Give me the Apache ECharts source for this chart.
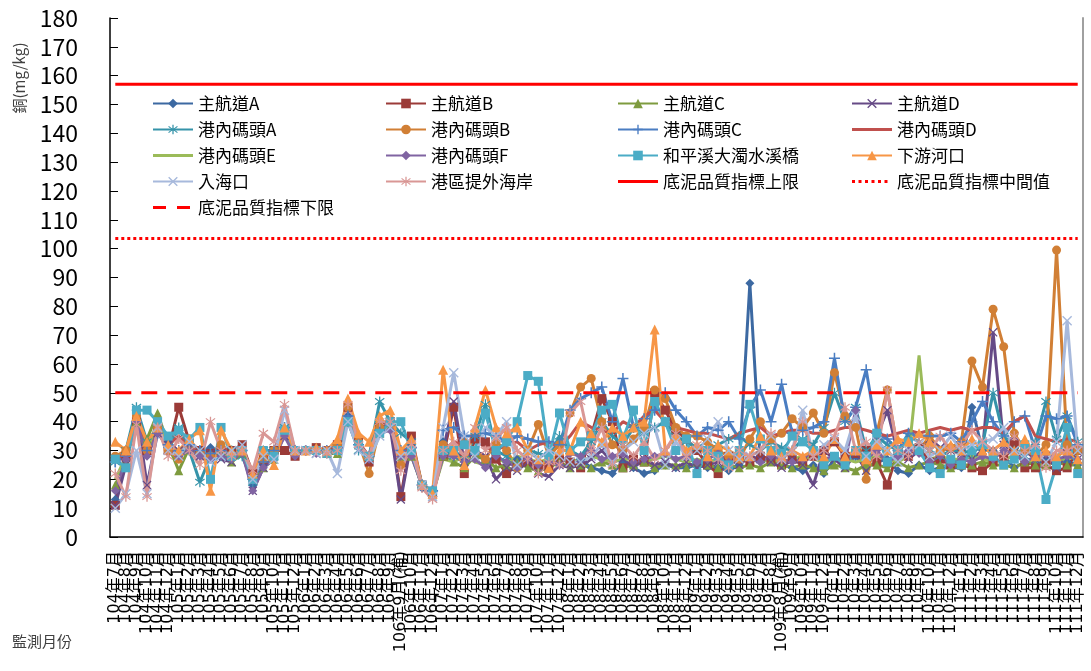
<!DOCTYPE html>
<html><head><meta charset="utf-8">
<script src="https://cdn.jsdelivr.net/npm/echarts@6/dist/echarts.min.js"></script>
<style>html,body{margin:0;padding:0;background:#fff}#c{width:1091px;height:671px}</style>
</head><body><div id="c"></div>
<script>
const categories = [
'104年7月','104年8月','104年9月','104年10月','104年11月','104年12月',
'105年1月','105年2月','105年3月','105年4月','105年5月','105年6月','105年7月','105年8月','105年9月','105年10月','105年11月','105年12月',
'106年1月','106年2月','106年3月','106年4月','106年5月','106年6月','106年7月','106年8月','106年9月','106年9月(補)','106年10月','106年11月','106年12月',
'107年1月','107年2月','107年3月','107年4月','107年5月','107年6月','107年7月','107年8月','107年9月','107年10月','107年11月','107年12月',
'108年1月','108年2月','108年3月','108年4月','108年5月','108年6月','108年7月','108年8月','108年9月','108年10月','108年11月','108年12月',
'109年1月','109年2月','109年3月','109年4月','109年5月','109年6月','109年7月','109年8月','109年8月(補)','109年9月','109年10月','109年11月','109年12月',
'110年1月','110年2月','110年3月','110年4月','110年5月','110年6月','110年7月','110年8月','110年9月','110年10月','110年11月','110年12月',
'111年1月','111年2月','111年3月','111年4月','111年5月','111年6月','111年7月','111年8月','111年9月','111年10月','111年11月','111年12月'
];
const yTicks = {min:0, max:180, interval:10};
const upperLimit = 157;
const middleValue = 103.5;
const lowerLimit = 50;

const mainA = [13,27,42,30,36,33,28,30,29,31, 28,29,30,18,25,28,36,29,30,30, 30,31,42,31,28,36,40,28,30,17, 15,33,30,27,30,26,28,26,27,25, 24,25,27,26,27,24,23,22,26,24, 22,23,25,24,24,25,24,24,23,25, 88,26,27,25,24,23,25,22,27,25, 28,24,26,27,23,22,25,23,24,24, 24,45,30,30,28,24,26,25,27,25, 26,25];
const mainB = [11,28,40,30,38,30,45,33,30,29, 30,30,32,22,27,30,30,28,30,31, 30,32,45,33,26,38,40,14,35,18, 15,28,45,22,34,33,27,22,25,26, 25,24,27,26,24,35,48,40,24,27, 26,50,44,37,34,30,25,22,28,27, 26,28,27,25,27,26,28,30,33,28, 29,30,26,18,30,28,31,26,27,25, 25,24,23,26,27,32,24,24,25,23, 24,30];
const mainC = [18,26,40,34,43,32,23,31,30,29, 30,26,29,20,24,27,38,30,30,30, 29,29,40,32,28,36,38,28,28,18, 15,28,26,24,28,27,24,25,26,24, 23,24,26,24,25,24,26,25,24,25, 26,24,25,25,24,26,25,24,25,24, 25,24,26,25,24,25,24,23,25,24, 23,25,25,24,26,24,25,26,25,24, 25,25,26,25,25,24,26,25,25,26, 25,25];
const mainD = [11,25,44,18,36,32,30,31,28,29, 27,26,30,16,24,28,35,30,30,29, 30,30,40,32,27,37,38,13,33,18, 14,30,47,26,30,28,20,24,23,26, 22,21,25,24,25,27,30,26,27,24, 27,25,26,24,26,24,25,26,27,25, 28,27,26,24,27,25,18,30,27,24, 29,23,35,44,29,27,30,34,31,30, 29,27,30,71,32,35,30,27,28,24, 29,27];
const harborA = [26,30,45,33,38,30,38,30,19,28, 28,30,28,19,30,30,38,30,30,30, 29,31,40,30,28,47,40,36,33,18, 15,30,28,27,35,46,30,28,25,30, 29,28,35,30,28,33,40,35,32,38, 36,38,40,35,33,31,30,32,34,35, 32,30,33,31,30,34,32,38,50,40, 45,30,35,32,30,35,33,30,28,30, 30,29,32,50,35,30,28,33,47,34, 42,33];
const harborB = [28,30,42,30,38,30,27,34,29,28, 32,28,30,20,27,30,37,30,30,30, 30,32,45,33,22,38,40,25,30,18, 16,32,30,33,30,27,33,30,24,30, 39,28,32,43,52,55,40,32,30,34, 38,51,48,38,35,35,33,30,28,27, 34,40,34,36,41,38,43,36,57,42, 38,20,36,51,30,33,30,35,30,31, 33,61,52,79,66,36,30,28,32,99.5, 32,30];
const harborC = [26,28,40,30,36,32,30,32,30,29, 30,29,30,20,26,30,38,30,30,30, 30,31,42,32,28,37,39,30,31,18, 16,37,38,35,35,36,35,33,35,34, 33,33,32,44,48,50,52,40,55,38, 41,44,50,44,40,35,38,37,40,34, 45,51,40,53,36,37,38,40,62,40, 45,58,36,34,30,36,35,35,35,36, 33,40,47,40,35,40,42,30,42,41, 42,32];
const harborD = [27,29,42,31,37,32,35,31,30,30, 31,30,31,20,28,30,38,30,30,30, 30,31,43,33,28,38,40,30,30,18, 16,30,33,32,34,31,30,32,33,30, 32,33,31,35,40,38,37,36,40,38, 42,44,40,38,37,36,36,35,34,36, 37,38,35,36,37,37,36,36,37,38, 38,37,36,35,36,37,36,37,38,37, 38,37,38,38,36,40,42,35,34,33, 34,33];
const harborE = [20,28,38,30,40,31,30,30,28,29, 29,28,30,22,26,28,36,29,30,30, 29,30,40,31,26,36,38,28,29,18, 15,27,26,28,26,25,27,26,28,27, 26,27,26,27,26,28,27,26,27,27, 26,27,28,27,26,27,26,27,26,27, 27,26,27,26,27,28,27,26,27,27, 26,27,28,27,26,28,63,27,28,27, 27,28,27,26,27,28,27,26,28,27, 27,28];
const harborF = [16,27,40,28,36,31,28,30,28,27, 28,27,29,16,24,27,35,28,30,29, 30,30,40,31,27,36,37,28,28,18, 15,28,28,26,27,24,28,26,24,27, 25,26,25,29,28,30,27,28,29,26, 27,28,29,27,28,26,27,29,26,28, 27,26,28,27,26,27,30,27,28,26, 44,27,30,26,28,30,29,26,28,25, 27,26,28,27,30,29,26,28,29,27, 28,27];
const hepingBridge = [27,24,44,44,40,35,37,34,38,20, 38,28,30,20,30,28,37,30,30,30, 29,30,40,32,28,36,40,40,30,18, 16,30,30,32,30,43,30,33,40,56, 54,28,43,30,33,35,44,46,34,44, 30,47,40,30,34,22,30,28,25,30, 46,34,30,29,35,33,30,25,28,25, 30,28,36,26,30,33,30,24,22,27, 25,30,32,28,25,27,32,30,13,25, 38,22];
const downstream = [33,30,42,33,38,32,30,34,37,16, 37,30,30,22,30,25,38,30,30,31, 30,34,48,36,33,42,44,30,34,18, 15,58,30,25,38,51,38,36,38,30, 27,24,30,30,40,36,33,38,35,38, 40,72,30,35,30,32,28,32,30,28, 28,35,30,28,30,28,30,28,34,28, 30,27,32,30,34,33,36,33,30,32, 30,34,30,30,33,30,34,28,30,28, 30,27];
const estuary = [10,15,30,15,38,30,28,33,30,26, 28,30,32,20,28,27,44,30,30,29, 30,22,40,30,27,35,38,28,30,18, 14,38,57,35,28,38,35,40,25,30, 27,30,28,26,26,28,32,26,30,33, 36,38,25,33,28,30,34,40,30,27, 28,30,35,27,30,44,28,32,34,30, 42,28,33,30,26,30,32,28,30,35, 30,32,33,34,38,30,28,32,26,33, 75,30];
const offshore = [22,14,39,14,38,28,34,30,25,40, 30,28,30,23,36,33,46,30,30,30, 29,30,46,32,28,40,40,23,32,17, 13,30,33,28,38,30,34,38,30,27, 22,26,25,43,47,30,38,25,32,28, 33,27,30,36,28,32,30,27,24,30, 28,30,36,27,30,40,28,30,35,45, 30,33,28,51,30,28,33,30,35,30, 32,37,33,30,28,35,30,32,24,30, 30,32];

const pX = 'path://M1,0L5,4L9,0L10,1L6,5L10,9L9,10L5,6L1,10L0,9L4,5L0,1Z';
const pStar = 'path://M4.4,0H5.6V4.1L8.9,1.3L9.6,2.2L6.1,5L9.6,7.8L8.9,8.7L5.6,5.9V10H4.4V5.9L1.1,8.7L0.4,7.8L3.9,5L0.4,2.2L1.1,1.3L4.4,4.1Z';
const pPlus = 'path://M4.3,0H5.7V4.3H10V5.7H5.7V10H4.3V5.7H0V4.3H4.3Z';
// legend icons drawn in a 40x12 box (tiny corner squares fix the box)
const box = 'M0,0H0.01V0.01H0ZM39.99,11.99H40V12H39.99Z';
const iconSolid = 'path://' + box + 'M0,4.5H40V7.5H0Z';
const iconDash = 'path://' + box + 'M0,4.5H13V7.5H0ZM24,4.5H37V7.5H24Z';
const iconDot = 'path://' + box + 'M0,4.5H3V7.5H0ZM6.5,4.5H9.5V7.5H6.5ZM13,4.5H16V7.5H13ZM19.5,4.5H22.5V7.5H19.5ZM26,4.5H29V7.5H26ZM32.5,4.5H35.5V7.5H32.5Z';

const defs = [
 ['主航道A', mainA, '#3C69A2', 'diamond', 9],
 ['主航道B', mainB, '#9B3B38', 'rect', 9],
 ['主航道C', mainC, '#7E9B3F', 'triangle', 9],
 ['主航道D', mainD, '#664A86', pX, 9],
 ['港內碼頭A', harborA, '#3593A9', pStar, 10],
 ['港內碼頭B', harborB, '#D17F35', 'circle', 9],
 ['港內碼頭C', harborC, '#4A7DC2', pPlus, 11],
 ['港內碼頭D', harborD, '#C0504D', 'none', 0],
 ['港內碼頭E', harborE, '#9BBB59', 'none', 0],
 ['港內碼頭F', harborF, '#8064A2', 'diamond', 9],
 ['和平溪大濁水溪橋', hepingBridge, '#4BACC6', 'rect', 9],
 ['下游河口', downstream, '#F79646', 'triangle', 10],
 ['入海口', estuary, '#A7B9DC', pX, 10],
 ['港區提外海岸', offshore, '#D99795', pStar, 10]
];

const series = defs.map(d => ({
  name: d[0], type: 'line', data: d[1], symbol: d[3], symbolSize: d[4], showSymbol: d[3] !== 'none',
  lineStyle: {color: d[2], width: 3}, itemStyle: {color: d[2]}, emphasis: {disabled: true}
}));
const refLines = [
  ['底泥品質指標上限', upperLimit, 'solid'],
  ['底泥品質指標中間值', middleValue, [3, 3]],
  ['底泥品質指標下限', lowerLimit, [16, 10]]
];
refLines.forEach(r => series.push({
  name: r[0], type: 'line', data: categories.map(() => r[1]), symbol: 'none', z: 5,
  lineStyle: {color: '#FF0000', width: 3, type: r[2]}, itemStyle: {color: '#FF0000'}, emphasis: {disabled: true}
}));

const iconFor = {
  '港內碼頭D': iconSolid, '港內碼頭E': iconSolid,
  '底泥品質指標上限': iconSolid, '底泥品質指標中間值': iconDot, '底泥品質指標下限': iconDash
};
const font = '"Noto Sans CJK TC", "Noto Sans", sans-serif';
const legendCols = [
  ['主航道A','港內碼頭A','港內碼頭E','入海口','底泥品質指標下限'],
  ['主航道B','港內碼頭B','港內碼頭F','港區提外海岸'],
  ['主航道C','港內碼頭C','和平溪大濁水溪橋','底泥品質指標上限'],
  ['主航道D','港內碼頭D','下游河口','底泥品質指標中間值']
];
const legendLeft = [152, 385, 617, 851];
const legends = legendCols.map((col, i) => ({
  data: col.map(n => iconFor[n] ? {name: n, icon: iconFor[n]} : {name: n}),
  orient: 'vertical', left: legendLeft[i], top: 95, itemGap: 9, padding: 0,
  itemWidth: 40, itemHeight: 12, textStyle: {fontSize: 17, lineHeight: 16, color: '#000', fontFamily: font},
  selectedMode: false
}));

const chart = echarts.init(document.getElementById('c'));
chart.setOption({
  animation: false,
  backgroundColor: '#fff',
  grid: {left: 110, right: 8, top: 18, bottom: 134},
  legend: legends,
  xAxis: {
    type: 'category', data: categories, boundaryGap: true,
    axisLine: {lineStyle: {color: '#000', width: 1.5}},
    axisTick: {inside: true, length: 5, lineStyle: {color: '#000'}, interval: 0},
    axisLabel: {rotate: 90, interval: 0, fontSize: 16, color: '#000', margin: 14,
      fontFamily: '"DejaVu Sans", "Noto Sans CJK TC", sans-serif'}
  },
  yAxis: [{
    type: 'value', min: yTicks.min, max: yTicks.max, interval: yTicks.interval,
    axisLine: {show: true, lineStyle: {color: '#000', width: 1.5}},
    axisTick: {show: true, inside: true, length: 8, lineStyle: {color: '#000'}},
    splitLine: {show: false},
    axisLabel: {fontSize: 23, color: '#000', margin: 32, fontFamily: font}
  }, {
    type: 'value', position: 'right', min: yTicks.min, max: yTicks.max,
    axisLine: {show: true, lineStyle: {color: '#A0A0A0', width: 2}},
    axisTick: {show: false}, axisLabel: {show: false}, splitLine: {show: false}
  }],
  graphic: [
    {type: 'text', x: 19, y: 78, rotation: Math.PI / 2,
     style: {text: '銅(mg/kg)', fontSize: 15, fill: '#404040', fontFamily: font, textAlign: 'center', textVerticalAlign: 'middle'}},
    {type: 'text', left: 12, top: 634, style: {text: '監測月份', fontSize: 15, fill: '#404040', fontFamily: font}}
  ],
  series: series
});
</script></body></html>
